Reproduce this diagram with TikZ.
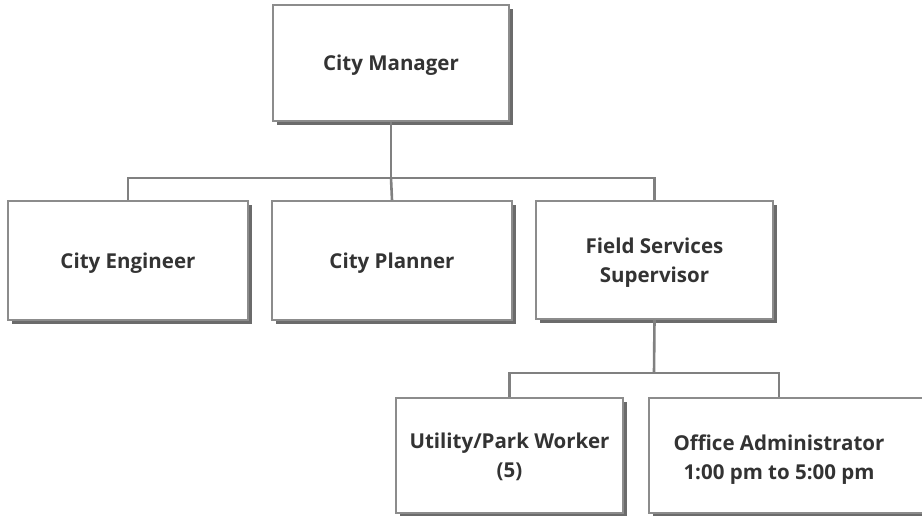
\documentclass[tikz,border=0pt]{standalone}
\usepackage{fontspec}
\setmainfont{Open Sans}
\usetikzlibrary{shadows}

\begin{document}
\begin{tikzpicture}[x = 1pt, y = -1pt,
    post/.style = {draw = black!45, line width = 2pt, fill = white, align = center,
      font = \bfseries\fontsize{20.5}{29}\selectfont, text = black!80, text depth = -3pt,
      drop shadow = {shadow xshift = 4pt, shadow yshift = -4pt, opacity = 1, fill = black!58}},
    link/.style = {draw = black!50, line width = 2.6pt}]

    \useasboundingbox (0,0) rectangle (922,516);

    % top of the chart
    \node [post, minimum width = 236pt, minimum height = 116pt] (mgr) at (391,63) {City Manager};

    % second row
    \node [post, minimum width = 240pt, minimum height = 119pt] (eng) at (128,260.5) {City Engineer};
    \node [post, minimum width = 240pt, minimum height = 119pt] (plan) at (392,260.5) {City Planner};
    \node [post, minimum width = 237pt, minimum height = 118pt] (field) at (654.5,260) {Field Services\\Supervisor};

    % third row
    \node [post, minimum width = 227pt, minimum height = 115pt] (util) at (509.5,455.5) {Utility/Park Worker\\(5)};
    \node [post, minimum width = 300pt, minimum height = 115pt, anchor = west] (office) at (648,455.5) {};
    \node [align = center, font = \bfseries\fontsize{20.5}{29}\selectfont, text = black!80] (officetxt) at (779,459.5) {Office Administrator\\1:00 pm to 5:00 pm};

    \coordinate (fork1) at (391,178);
    \coordinate (fork2) at (654,373);

    \draw [link] (mgr.south) -- (fork1);
    \draw [link] (eng.north) |- (fork1) -| (field.north);
    \draw [link] (fork1) -- (plan.north);
    \draw [link] (field.south) -- (fork2);
    \draw [link] (util.north) |- (fork2) -| (office.north west -| officetxt);
\end{tikzpicture}
\end{document}
